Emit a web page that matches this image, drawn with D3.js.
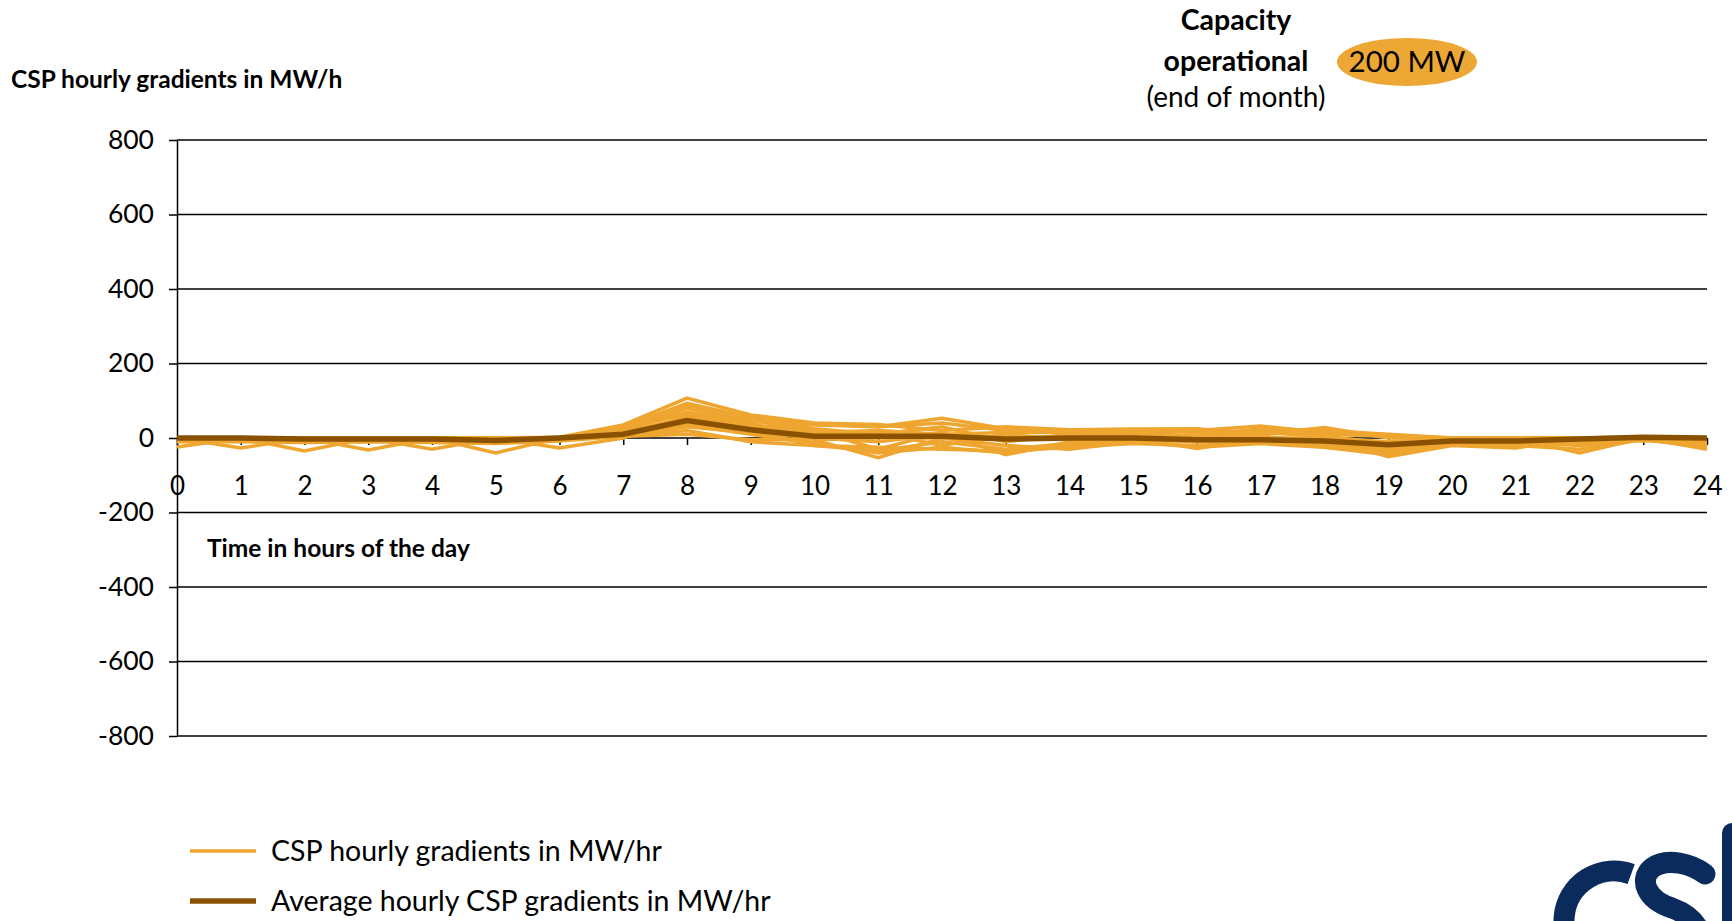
<!DOCTYPE html>
<html>
<head>
<meta charset="utf-8">
<script src="https://cdn.jsdelivr.net/npm/d3@7"></script>
<style>
  html, body { margin: 0; padding: 0; background: #fff; }
  svg { display: block; font-family: Lato, "Open Sans", sans-serif; }
</style>
</head>
<body>
<svg id="chart" width="1732" height="921"></svg>
<script>
// ---------- data ----------
const hours = d3.range(0, 25);                 // 0 .. 24
const yTickValues = [800, 600, 400, 200, 0, -200, -400, -600, -800];
const xTickValues = d3.range(0, 25);

// daily CSP hourly gradients (MW/h), one array per day, hours 0..24
const day01 = [0,0,0,0,0,0,0,12,48,25,5,3,5,-3,0,0,-5,-5,-8,-18,-8,-8,-3,2,0];
const day02 = [0,0,0,0,0,0,2,35,107,62,40,36,20,30,22,24,25,10,28,0,0,0,0,0,0];
const day03 = [0,0,0,0,0,0,0,30,93,55,38,30,53,25,20,22,20,32,15,8,0,0,0,3,0];
const day04 = [-24,0,-35,0,-30,0,-27,0,60,35,20,-30,15,-45,-10,0,-28,0,-25,-45,-15,0,-40,0,-30];
const day05 = [0,-27,0,-32,0,-40,0,20,70,40,-5,-53,0,-20,-30,-10,0,-15,0,-50,-20,-27,0,-8,0];
const day06 = [-5,-5,-8,-8,-8,-10,-5,10,40,20,-20,-25,-30,-35,-25,-15,-20,-10,-20,-30,-10,-10,-15,-5,-20];
const day07 = [0,0,0,0,0,0,0,15,55,30,15,20,10,15,15,10,5,25,20,10,0,-5,0,0,-5];
const day08 = [0,0,-3,0,-3,0,0,8,30,15,0,-10,10,0,5,5,0,5,-10,-25,-10,-15,-10,0,-10];
const day09 = [0,0,0,0,0,0,0,5,20,-10,-20,-35,-10,-30,-15,-5,-10,-5,-15,-40,-15,-10,-20,-5,-15];
const day10 = [0,0,0,0,0,0,0,20,80,45,35,30,40,20,18,20,15,20,10,5,-5,0,0,0,0];
const day11 = [0,0,0,0,0,-5,0,25,65,50,10,15,-20,10,-5,5,-10,-5,-10,-20,-5,-10,-5,0,-5];
const day12 = [0,0,0,0,0,0,0,5,10,-5,-5,0,0,-5,0,0,0,0,0,-10,0,0,0,0,0];
const day13 = [0,0,0,0,0,0,0,28,85,50,25,10,30,-10,10,15,5,15,5,-15,-10,0,-5,0,0];
const day14 = [-10,-10,-12,-10,-12,-15,-8,5,35,10,-15,-40,-25,-40,-20,-10,-25,-15,-25,-35,-15,-20,-30,-5,-25];
const dailySeries = [day01, day02, day03, day04, day05, day06, day07, day08, day09, day10, day11, day12, day13, day14];

// average hourly CSP gradient (MW/h)
const avgGradient = [0,0,-3,-3,-3,-7,0,10,47,22,5,5,5,-3,0,0,-5,-5,-8,-18,-8,-8,-3,2,0];

const legendLabels = ["CSP hourly gradients in MW/hr", "Average hourly CSP gradients in MW/hr"];
const capacityLabel = "200 MW";

// ---------- drawing ----------
const svg = d3.select("#chart");
const orange = "#EEA630";
const brown = "#8A5200";

const x = d3.scaleLinear().domain([0, 24]).range([177, 1707]);
const y = d3.scaleLinear().domain([-800, 800]).range([736, 140]);

// gridlines
svg.append("g").selectAll("line").data(yTickValues).join("line")
  .attr("x1", x(0)).attr("x2", x(24))
  .attr("y1", d => y(d)).attr("y2", d => y(d))
  .attr("stroke", "#000").attr("stroke-width", 1.5);

// y axis
const yAxis = svg.append("g").attr("transform", `translate(${x(0)},0)`)
  .call(d3.axisLeft(y).tickValues(yTickValues).tickFormat(d => String(d))
    .tickSize(8).tickPadding(15).tickSizeOuter(0));
yAxis.select(".domain").attr("stroke", "#000").attr("stroke-width", 1.5);
yAxis.selectAll(".tick line").attr("stroke", "#000").attr("stroke-width", 1.5);
yAxis.selectAll(".tick text").attr("font-size", 26.5).attr("fill", "#000")
  .attr("font-family", "Lato, sans-serif");

// x axis along zero line
const xAxis = svg.append("g").attr("transform", `translate(0,${y(0)})`)
  .call(d3.axisBottom(x).tickValues(xTickValues).tickFormat(d => String(d))
    .tickSize(7).tickPadding(32).tickSizeOuter(0));
xAxis.select(".domain").remove();
xAxis.selectAll(".tick line").attr("stroke", "#000").attr("stroke-width", 1.5);
xAxis.selectAll(".tick text").attr("font-size", 26).attr("fill", "#000")
  .attr("font-family", "Lato, sans-serif");

// lines
const line = d3.line().x((d, i) => x(hours[i])).y(d => y(d));
svg.append("g").selectAll("path").data(dailySeries).join("path")
  .attr("d", line).attr("fill", "none").attr("stroke", orange)
  .attr("stroke-width", 3.5).attr("stroke-linejoin", "miter");

svg.append("path").datum(avgGradient).attr("d", line)
  .attr("fill", "none").attr("stroke", brown).attr("stroke-width", 5.5);

// titles
svg.append("text").attr("x", 11).attr("y", 88).text("CSP hourly gradients in MW/h")
  .attr("font-weight", "bold").attr("font-size", 24.5);
svg.append("text").attr("x", 207).attr("y", 557).text("Time in hours of the day")
  .attr("font-weight", "bold").attr("font-size", 24.5);

// capacity box
svg.append("text").attr("x", 1236).attr("y", 30).attr("text-anchor", "middle")
  .attr("font-weight", "bold").attr("font-size", 28.5).text("Capacity");
svg.append("text").attr("x", 1236).attr("y", 71).attr("text-anchor", "middle")
  .attr("font-weight", "bold").attr("font-size", 28.5).text("operational");
svg.append("text").attr("x", 1236).attr("y", 107).attr("text-anchor", "middle")
  .attr("font-size", 28).text("(end of month)");
svg.append("ellipse").attr("cx", 1407).attr("cy", 62).attr("rx", 70).attr("ry", 24)
  .attr("fill", "#EDA735");
svg.append("text").attr("x", 1407).attr("y", 72).attr("text-anchor", "middle")
  .attr("font-size", 29.5).text(capacityLabel);

// legend
const lg = svg.append("g");
[orange, brown].forEach((c, i) => {
  const yy = 851 + i * 50;
  lg.append("line").attr("x1", 190).attr("x2", 256).attr("y1", yy).attr("y2", yy)
    .attr("stroke", c).attr("stroke-width", i === 0 ? 3.5 : 5.5);
  lg.append("text").attr("x", 271).attr("y", yy + 10).attr("font-size", 28.5).text(legendLabels[i]);
});

// logo (partial, bottom right)
const logo = svg.append("g").attr("fill", "none").attr("stroke", "#0B2B5C")
  .attr("stroke-width", 21).attr("stroke-linecap", "round");
logo.append("path").attr("d", d3.arc()({innerRadius: 50, outerRadius: 50, startAngle: 0.35, endAngle: -3.3}))
  .attr("transform", "translate(1614,921)");
logo.append("path").attr("d", "M1705,874 C1692,864 1667,857 1652,868 C1638,880 1647,900 1672,908 C1694,916 1707,932 1702,962");
svg.append("rect").attr("x", 1722).attr("y", 823).attr("width", 22).attr("height", 120)
  .attr("rx", 10).attr("fill", "#0B2B5C");
</script>
</body>
</html>
